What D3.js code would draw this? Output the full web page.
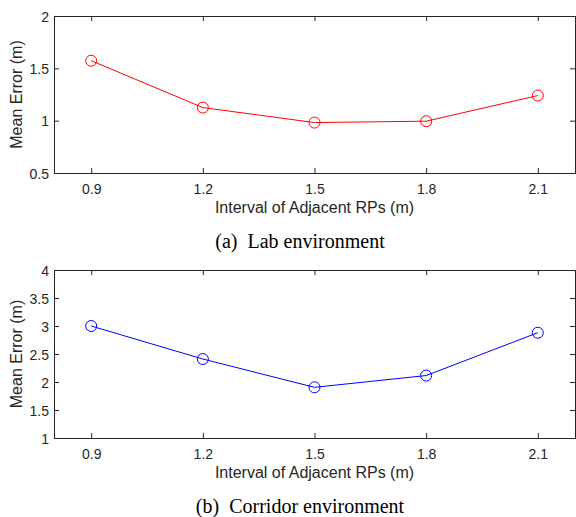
<!DOCTYPE html>
<html><head><meta charset="utf-8">
<script src="https://cdn.jsdelivr.net/npm/d3@7"></script>
<style>body{margin:0;background:#fff}svg{display:block}</style>
</head><body>
<script>
const intervals = [0.9, 1.2, 1.5, 1.8, 2.1];
const labError = [1.573, 1.125, 0.982, 0.995, 1.240];
const corridorError = [3.0, 2.41, 1.905, 2.115, 2.88];
const xTicks = [0.9, 1.2, 1.5, 1.8, 2.1];
const labYTicks = [0.5, 1, 1.5, 2];
const corridorYTicks = [1, 1.5, 2, 2.5, 3, 3.5, 4];
const xLabel = "Interval of Adjacent RPs (m)";
const yLabel = "Mean Error (m)";
const captions = ["(a)\u00a0\u00a0Lab environment", "(b)\u00a0\u00a0Corridor environment"];

const W = 576, H = 517;
const svg = d3.select("body").append("svg").attr("width", W).attr("height", H);
const axisColor = "#262626";
const sans = "Liberation Sans, Arial, sans-serif";

function panel(top, bottom, yDomain, yTicks, values, color, caption, capY) {
  const left = 54, right = 575;
  const x = d3.scaleLinear().domain([0.8, 2.2]).range([left, right]);
  const y = d3.scaleLinear().domain(yDomain).range([bottom, top]);
  const g = svg.append("g");
  const fmt = d => d3.format("")(d);
  const tickLen = 5;
  const ax = g.append("g").attr("transform", `translate(0,${bottom})`)
    .call(d3.axisBottom(x).tickValues(xTicks).tickSize(-tickLen).tickPadding(11).tickFormat(fmt));
  const axT = g.append("g").attr("transform", `translate(0,${top})`)
    .call(d3.axisTop(x).tickValues(xTicks).tickSize(-tickLen).tickFormat(""));
  const ay = g.append("g").attr("transform", `translate(${left},0)`)
    .call(d3.axisLeft(y).tickValues(yTicks).tickSize(-tickLen).tickPadding(5).tickFormat(fmt));
  const ayR = g.append("g").attr("transform", `translate(${right},0)`)
    .call(d3.axisRight(y).tickValues(yTicks).tickSize(-tickLen).tickFormat(""));
  [ax, axT, ay, ayR].forEach(a => {
    a.selectAll("path.domain").attr("stroke", axisColor).attr("stroke-width", 1);
    a.selectAll(".tick line").attr("stroke", axisColor).attr("stroke-width", 1);
    a.selectAll(".tick text").attr("fill", axisColor).attr("font-family", sans).attr("font-size", 14);
  });
  ay.selectAll(".tick text").attr("dy", "0.36em");
  const data = intervals.map((v, i) => [v, values[i]]);
  g.append("path").datum(data)
    .attr("fill", "none").attr("stroke", color).attr("stroke-width", 1)
    .attr("d", d3.line().x(d => x(d[0])).y(d => y(d[1])));
  g.selectAll("circle.m").data(data).enter().append("circle")
    .attr("cx", d => x(d[0])).attr("cy", d => y(d[1])).attr("r", 5.5)
    .attr("fill", "none").attr("stroke", color).attr("stroke-width", 1);
  g.append("text").attr("x", (left + right) / 2).attr("y", bottom + 40)
    .attr("text-anchor", "middle").attr("fill", axisColor)
    .attr("font-family", sans).attr("font-size", 16).text(xLabel);
  g.append("text").attr("transform", `translate(${22},${(top + bottom) / 2}) rotate(-90)`)
    .attr("text-anchor", "middle").attr("fill", axisColor)
    .attr("font-family", sans).attr("font-size", 16).text(yLabel);
  g.append("text").attr("x", 300).attr("y", capY)
    .attr("text-anchor", "middle").attr("fill", "#000")
    .attr("font-family", "Liberation Serif, Times New Roman, serif").attr("font-size", 20).text(caption);
}

panel(16, 173, [0.5, 2], labYTicks, labError, "#ff0000", captions[0], 248);
panel(270, 438, [1, 4], corridorYTicks, corridorError, "#0000ff", captions[1], 513);
</script>
</body></html>
